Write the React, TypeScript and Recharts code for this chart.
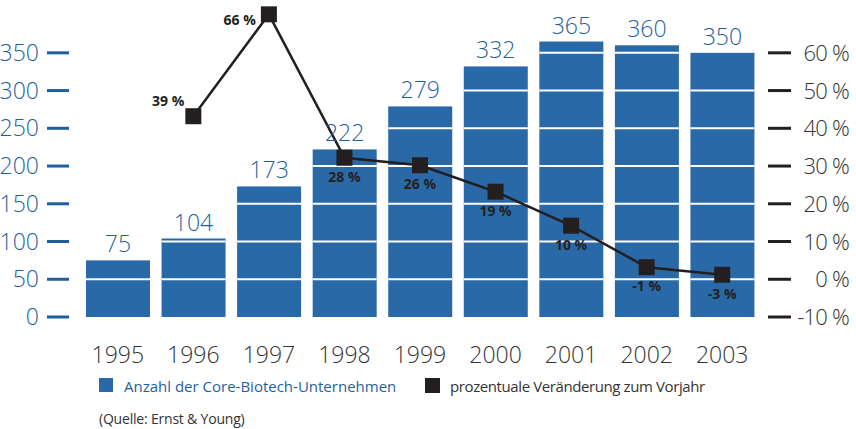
import { Bar, ComposedChart, LabelList, Line, XAxis, YAxis } from 'recharts'

const years = ['1995', '1996', '1997', '1998', '1999', '2000', '2001', '2002', '2003']
const companies = [75, 104, 173, 222, 279, 332, 365, 360, 350]
const change: (number | null)[] = [null, 39, 66, 28, 26, 19, 10, -1, -3]
const countTicks = [0, 50, 100, 150, 200, 250, 300, 350]
const pctTicks = [-10, 0, 10, 20, 30, 40, 50, 60]

const rows = years.map((year, i) => ({ year, companies: companies[i], change: change[i] }))

const FONT = "'Open Sans', sans-serif"
const BLUE = '#2a69a7'
const BLUE_TEXT = '#1f5f9e'
const DARK = '#231f20'

function BarWithBands(props: any) {
  const { x, y, width, height, value } = props
  if (!height || !value) return null
  const perUnit = height / value
  const bands = []
  for (let v = 50; v < value; v += 50) {
    const ly = y + height - v * perUnit
    bands.push(<line key={v} x1={x} x2={x + width} y1={ly} y2={ly} stroke="#fff" strokeWidth={2} />)
  }
  return (
    <g>
      <rect x={x} y={y} width={width} height={height} fill={BLUE} />
      {bands}
    </g>
  )
}

function LeftTick({ y, payload }: any) {
  return (
    <g>
      <line x1={47} x2={69} y1={y} y2={y} stroke={BLUE_TEXT} strokeWidth={3} />
      <text x={39} y={y} dy={8} textAnchor="end" fill={BLUE_TEXT} fontSize={23} fontWeight={300} fontFamily={FONT}>
        {payload.value}
      </text>
    </g>
  )
}

function RightTick({ y, payload }: any) {
  return (
    <g>
      <line x1={768} x2={791} y1={y} y2={y} stroke={DARK} strokeWidth={3} />
      <text
        x={849}
        y={y}
        dy={8}
        textAnchor="end"
        fill="#333"
        fontSize={22}
        letterSpacing={-0.8}
        fontWeight={300}
        fontFamily={FONT}
      >
        {`${payload.value} %`}
      </text>
    </g>
  )
}

function YearTick({ x, y, payload }: any) {
  return (
    <text x={x} y={y} dy={44} textAnchor="middle" fill="#333" fontSize={23} fontWeight={300} fontFamily={FONT}>
      {payload.value}
    </text>
  )
}

function SquareDot({ cx, cy, value }: any) {
  if (value == null || cx == null || cy == null) return null
  return <rect x={cx - 8} y={cy - 8} width={16} height={16} fill={DARK} />
}

function PctLabel({ x, y, value, index }: any) {
  if (value == null) return null
  let tx = x
  let ty = y + 24
  let anchor = 'middle'
  if (index === 1) {
    tx = x - 9
    ty = y - 10
    anchor = 'end'
  } else if (index === 2) {
    tx = x - 13
    ty = y + 11
    anchor = 'end'
  }
  return (
    <text x={tx} y={ty} textAnchor={anchor} fill={DARK} fontSize={14} fontWeight="bold" fontFamily={FONT}>
      {`${value} %`}
    </text>
  )
}

export default function App() {
  return (
    <div style={{ position: 'absolute', left: 0, top: 0, width: 856, height: 429, background: '#fff', fontFamily: FONT }}>
      <ComposedChart width={856} height={372} data={rows} margin={{ top: 0, right: 0, bottom: 0, left: 0 }}>
        <XAxis dataKey="year" axisLine={false} tickLine={false} tickSize={0} height={55} tick={<YearTick />} interval={0} />
        <YAxis
          yAxisId="count"
          width={80}
          domain={[0, 420]}
          ticks={countTicks}
          axisLine={false}
          tickLine={false}
          tick={<LeftTick />}
          interval={0}
        />
        <YAxis
          yAxisId="pct"
          orientation="right"
          width={96}
          type="number"
          domain={[-10, 74]}
          allowDataOverflow
          ticks={pctTicks}
          axisLine={false}
          tickLine={false}
          tick={<RightTick />}
          interval={0}
        />
        <YAxis yAxisId="line" hide domain={[-14.2, 69.8]} allowDataOverflow />
        <Bar yAxisId="count" dataKey="companies" barSize={64} shape={<BarWithBands />} isAnimationActive={false}>
          <LabelList dataKey="companies" position="top" offset={8} fill={BLUE_TEXT} fontSize={23} fontWeight={300} fontFamily={FONT} />
        </Bar>
        <Line
          yAxisId="line"
          dataKey="change"
          stroke={DARK}
          strokeWidth={2.5}
          dot={<SquareDot />}
          activeDot={false}
          isAnimationActive={false}
        >
          <LabelList dataKey="change" content={<PctLabel />} />
        </Line>
      </ComposedChart>
      <div style={{ position: 'absolute', left: 99, top: 378, width: 14, height: 14, background: BLUE }} />
      <div style={{ position: 'absolute', left: 124, top: 376, fontSize: 15, lineHeight: '20px', color: BLUE_TEXT, whiteSpace: 'nowrap' }}>
        Anzahl der Core-Biotech-Unternehmen
      </div>
      <div style={{ position: 'absolute', left: 425, top: 378, width: 15, height: 15, background: DARK }} />
      <div style={{ position: 'absolute', left: 450, top: 376, fontSize: 15, letterSpacing: '-0.4px', lineHeight: '20px', color: '#333', whiteSpace: 'nowrap' }}>
        prozentuale Veränderung zum Vorjahr
      </div>
      <div style={{ position: 'absolute', left: 99, top: 410, fontSize: 14, letterSpacing: '-0.2px', lineHeight: '18px', color: '#333', whiteSpace: 'nowrap' }}>
        (Quelle: Ernst &amp; Young)
      </div>
    </div>
  )
}
